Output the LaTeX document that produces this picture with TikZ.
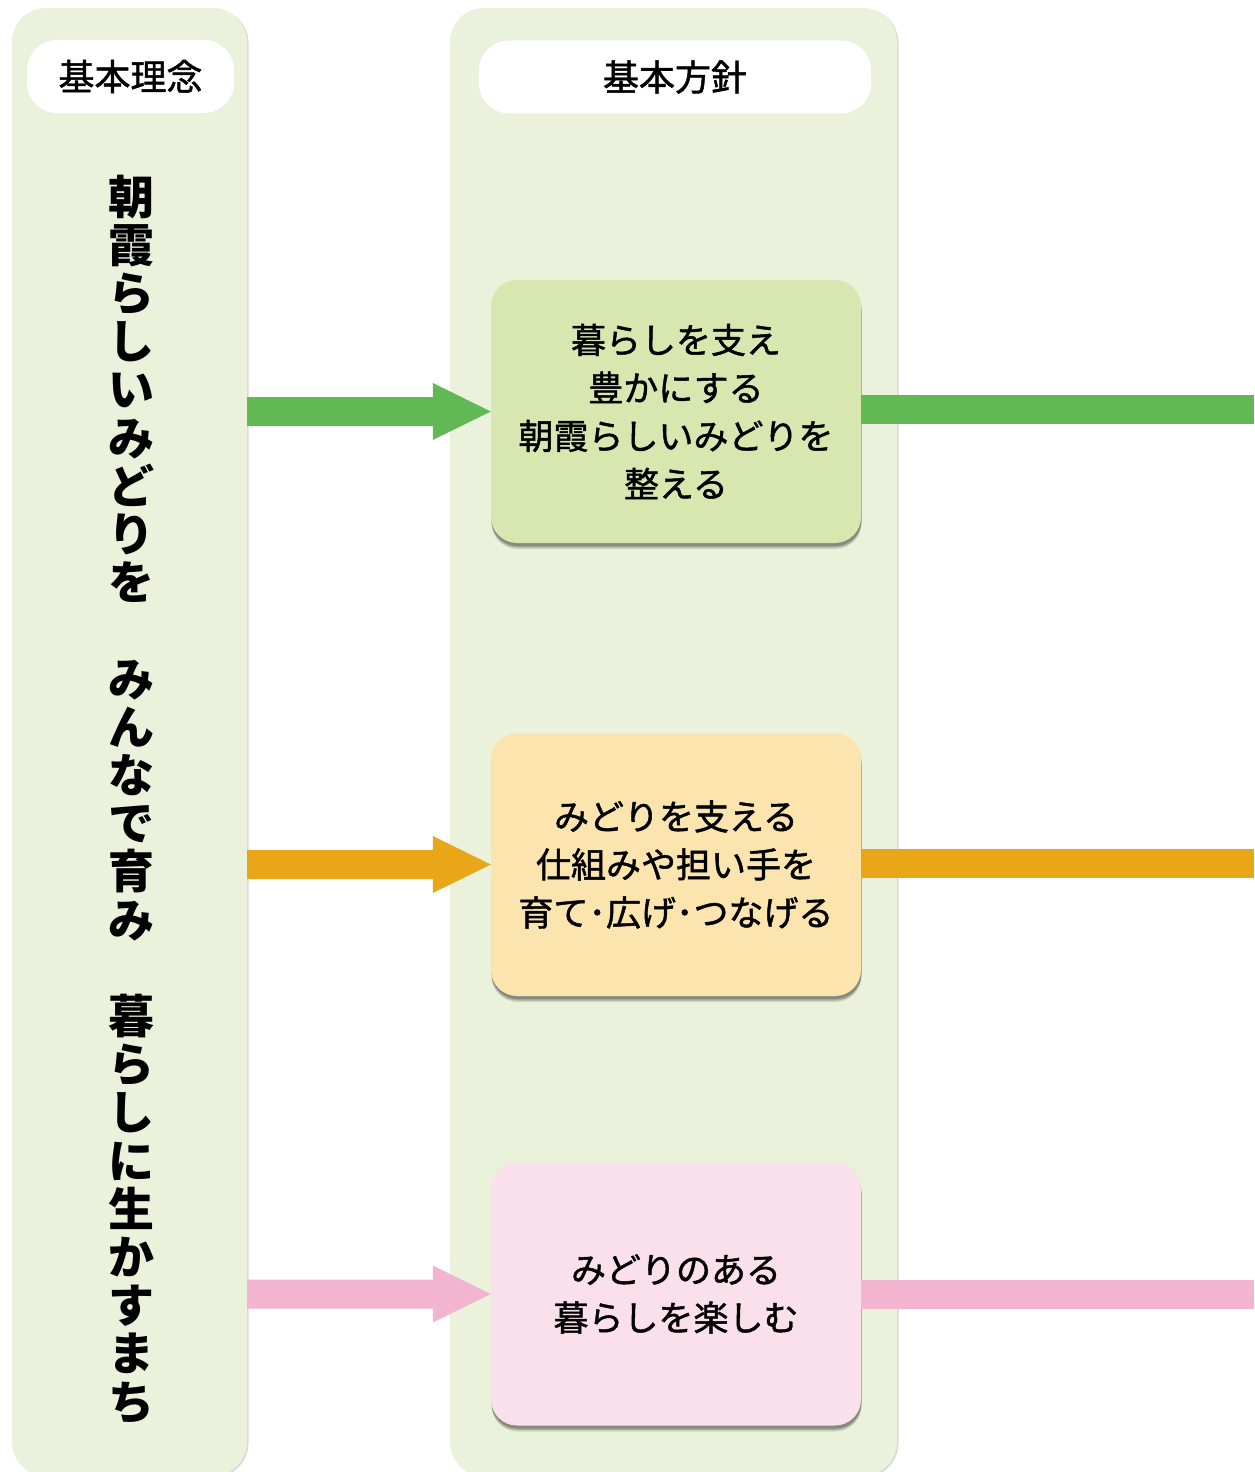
\documentclass[tikz,border=0pt]{standalone}
\usepackage{fontspec}
\newfontfamily\jp{Noto Sans CJK JP}
\newfontfamily\jpm{Noto Sans CJK JP}[FakeBold=1.3]
\usetikzlibrary{calc,shadows}
\definecolor{panelbg}{HTML}{EAF2DC}
\definecolor{boxA}{HTML}{D8E6B0}
\definecolor{boxB}{HTML}{FCE4AE}
\definecolor{boxC}{HTML}{FAE0EA}
\definecolor{arrA}{HTML}{62B855}
\definecolor{arrB}{HTML}{EAA619}
\definecolor{arrC}{HTML}{F3B4CF}
\tikzset{
  panel/.style={fill=panelbg, rounded corners=34pt, minimum width=#1, inner sep=0pt,
    drop shadow={shadow xshift=1.5pt, shadow yshift=-1pt, opacity=0.15, fill=black}},
  pill/.style={fill=white, rounded corners=30pt, minimum height=73pt, minimum width=#1, inner sep=0pt,
    font=\jpm\fontsize{36}{40}\selectfont},
  softshadow/.style={
    general shadow={shadow xshift=0.5pt, shadow yshift=-6pt, opacity=0.12, fill=black},
    general shadow={shadow xshift=0.5pt, shadow yshift=-4.5pt, opacity=0.18, fill=black},
    general shadow={shadow xshift=0.5pt, shadow yshift=-3pt, opacity=0.2, fill=black}},
  policy/.style={fill=#1, rounded corners=26pt, minimum width=370pt, minimum height=263pt, inner sep=0pt,
    align=center, font=\jpm\fontsize{35}{48}\selectfont, softshadow},
  bar/.style={line width=29pt, draw=#1},
}
\begin{document}
\begin{tikzpicture}[x=1pt,y=-1pt]
\useasboundingbox (0,0) rectangle (1254,1472);
\fill[white] (0,0) rectangle (1254,1472);
% panels
\node[panel=235pt, minimum height=1468pt] (lp) at (129.5,742) {};
\node[panel=447pt, minimum height=1468pt] (rp) at (673.5,742) {};
% headers
\node[pill=207pt] (lh) at (130.5,76.5) {基本理念};
\node[pill=392pt] (rh) at (675,77) {基本方針};
% vertical philosophy text
\node[align=center, inner sep=0pt, font=\jp\bfseries\fontsize{46}{48.2}\selectfont] (vt) at (131,799)
 {朝\\霞\\ら\\し\\い\\み\\ど\\り\\を\\　\\み\\ん\\な\\で\\育\\み\\　\\暮\\ら\\し\\に\\生\\か\\す\\ま\\ち};
% policy boxes
\node[policy=boxA] (b1) at (676,411.5) {暮らしを支え\\豊かにする\\朝霞らしいみどりを\\整える};
\node[policy=boxB] (b2) at (676,864.5) {みどりを支える\\仕組みや担い手を\\育て･広げ･つなげる};
\node[policy=boxC] (b3) at (676,1294) {みどりのある\\暮らしを楽しむ};
% right edge end points
\coordinate (e1) at (1254,409.5);
\coordinate (e2) at (1254,863.5);
\coordinate (e3) at (1254,1294);
% outgoing bars
\draw[bar=arrA] (b1.east |- e1) -- (e1);
\draw[bar=arrB] (b2.east |- e2) -- (e2);
\draw[bar=arrC] (b3.east |- e3) -- (e3);
% incoming block arrows
\foreach \b/\c in {b1/arrA,b2/arrB,b3/arrC}{
  \fill[\c] ($(lp.east |- \b.west)+(0,-14.5)$) -- ($(\b.west)+(-58,-14.5)$) -- ($(\b.west)+(-58,-28.5)$)
    -- (\b.west) -- ($(\b.west)+(-58,28.5)$) -- ($(\b.west)+(-58,14.5)$) -- ($(lp.east |- \b.west)+(0,14.5)$) -- cycle;
}
\end{tikzpicture}
\end{document}
